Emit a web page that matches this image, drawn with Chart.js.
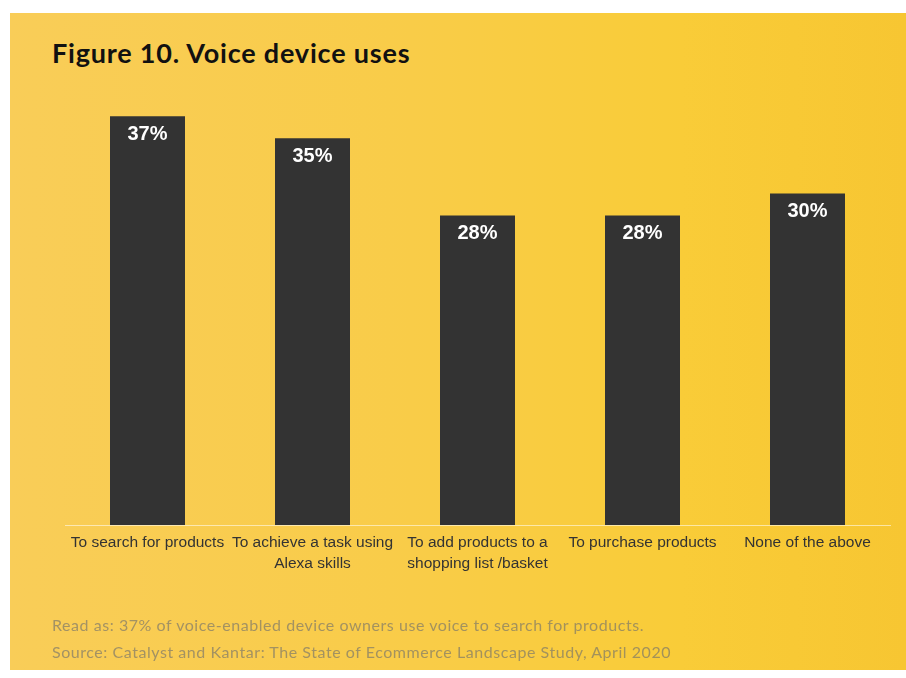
<!DOCTYPE html>
<html>
<head>
<meta charset="UTF-8">
<title>Voice device uses</title>
<style>
	body {margin: 0; background: #fff; width: 906px; height: 678px; overflow: hidden; position: relative;}
	.panel {position: absolute; left: 10px; top: 13px; width: 896px; height: 657px;
		background: linear-gradient(90deg, #f9cd58 0%, #f9cc48 45%, #f9cc38 75%, #f7c632 100%);}
	.title {position: absolute; left: 52px; top: 36px; font-family: Lato, sans-serif; font-weight: 700; font-size: 27px; letter-spacing: 0.8px; color: #111;}
	.note {position: absolute; left: 52px; font-family: Lato, sans-serif; font-size: 16px; letter-spacing: 0.55px; color: rgba(110,110,110,0.62);}
	#chart {position: absolute; left: 0; top: 0;}
</style>
</head>
<body>
	<div class="panel"></div>
	<div class="title">Figure 10. Voice device uses</div>
	<canvas id="chart" width="906" height="678"></canvas>
	<div class="note" style="top:615px">Read as: 37% of voice-enabled device owners use voice to search for products.</div>
	<div class="note" style="top:642px">Source: Catalyst and Kantar: The State of Ecommerce Landscape Study, April 2020</div>
</body>
<script src="https://cdn.jsdelivr.net/npm/chart.js"></script>
<script>
	// 항목과 값
	const categories = [
		'To search for products',
		['To achieve a task using', 'Alexa skills'],
		['To add products to a', 'shopping list /basket'],
		'To purchase products',
		'None of the above'
	];
	const values = [37, 35, 28, 28, 30];

	// 막대 위에 % 표시
	const valueLabels = {
		id: 'valueLabels',
		afterDatasetsDraw(chart) {
			const ctx = chart.ctx;
			ctx.save();
			ctx.font = 'bold 20px "Liberation Sans", Arial, sans-serif';
			ctx.fillStyle = '#fff';
			ctx.textAlign = 'center';
			ctx.textBaseline = 'middle';
			chart.getDatasetMeta(0).data.forEach(function(bar, i) {
				ctx.fillText(values[i] + '%', bar.x, bar.y + 18);
			});
			ctx.restore();
		}
	};

	new Chart(document.getElementById('chart'), {
		type: 'bar',
		data: {
			labels: categories,
			datasets: [{
				data: values,
				backgroundColor: '#333333',
				barPercentage: 0.4545,
				categoryPercentage: 1
			}]
		},
		options: {
			responsive: false,
			animation: false,
			layout: {padding: {left: 65, right: 16, top: 83, bottom: 0}},
			plugins: {legend: {display: false}, tooltip: {enabled: false}},
			scales: {
				x: {
					grid: {display: false, drawTicks: false},
					border: {display: true, color: 'rgba(255,255,255,0.55)', width: 1},
					ticks: {
						color: '#333',
						padding: 8,
						maxRotation: 0,
						minRotation: 0,
						autoSkip: false,
						font: {family: '"Liberation Sans", Arial, sans-serif', size: 15.5, lineHeight: 1.3}
					},
					afterFit: function(scale) { scale.height = 153; }
				},
				y: {display: false, min: 0, max: 40}
			}
		},
		plugins: [valueLabels]
	});
</script>
</html>
